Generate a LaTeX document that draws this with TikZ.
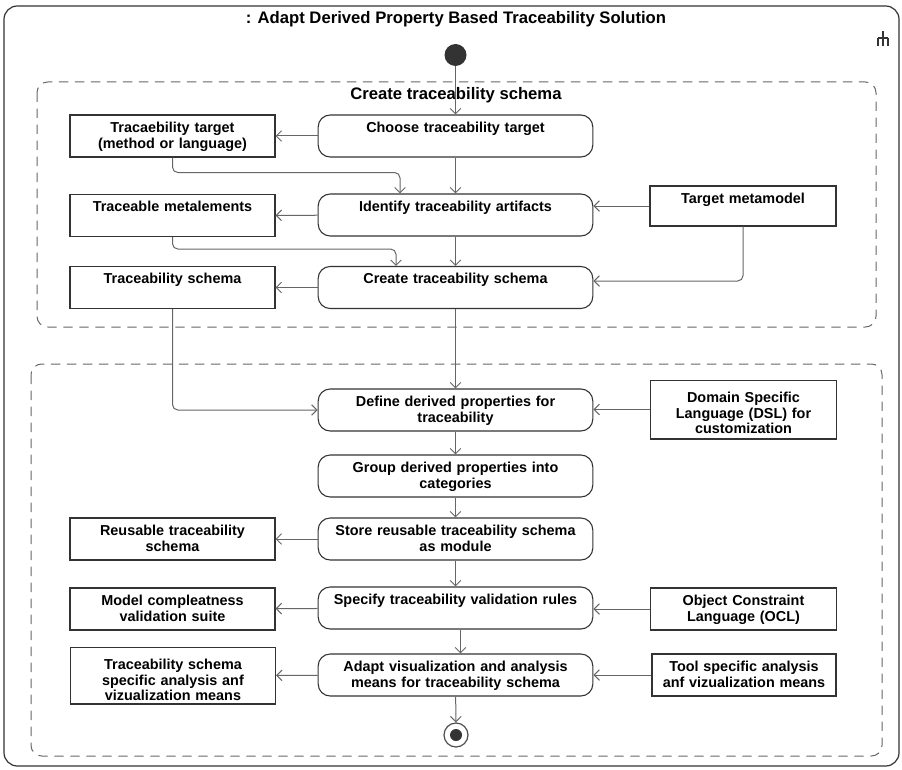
\documentclass[tikz,border=0pt]{standalone}
\usepackage{fontspec}
\setmainfont{Liberation Sans}
\usetikzlibrary{calc}
\usetikzlibrary{arrows.meta}

\begin{document}
\begin{tikzpicture}[x=0.75pt, y=-0.75pt,
  txt/.style={font=\bfseries\fontsize{10.8}{11.8}\selectfont},
  act/.style={txt, draw=black!80, line width=0.8pt, rounded corners=9pt, fill=white, inner xsep=0pt, inner ysep=3pt, text width=206pt, align=center, text height=10pt, text depth=15.5pt},
  obj/.style={txt, draw=black!80, line width=0.8pt, fill=white, inner xsep=0pt, inner ysep=3pt, text width=#1, align=center, text height=10pt, text depth=15.5pt},
  obj/.default=153.75pt,
  flow/.style={draw=black!60, line width=0.75pt, -{Straight Barb[length=4pt,width=8pt]}, rounded corners=4pt},
  region/.style={draw=black!60, dash pattern=on 7pt off 5pt, line width=0.75pt, rounded corners=8pt}]
\useasboundingbox (0,0) rectangle (902,770);
\draw[black!80, line width=0.9pt, rounded corners=10pt] (4,6) rectangle (899,766);
\node[font=\bfseries\fontsize{12.5}{14}\selectfont] (title) at (456,19) {: Adapt Derived Property Based Traceability Solution};
\draw[black!80, line width=1pt] (883,31) -- (883,46) (878,38) -- (888,38) (878,38) -- (878,46) (888,38) -- (888,46);

\draw[region] (37,82) rectangle (876,327);
\node[font=\bfseries\fontsize{12.5}{14}\selectfont] (schema) at (456,95) {Create traceability schema};
\draw[region] (31,364) rectangle (882,756);

\node[circle, fill=black!80, minimum size=16.5pt, inner sep=0pt] (init) at (455.5,55) {};
\node[circle, draw=black!70, line width=0.9pt, minimum size=18pt, inner sep=0pt] (final) at (456,735) {};
\node[circle, fill=black!80, minimum size=9pt, inner sep=0pt] (finaldot) at (final) {};

\node[act] (A1) at (455.5,136) {Choose traceability target};
\node[act] (A2) at (455.5,215) {Identify traceability artifacts};
\node[act] (A3) at (455.5,287.5) {Create traceability schema};
\node[act] (A4) at (455.5,410) {Define derived properties for\\traceability};
\node[act] (A5) at (455.5,476) {Group derived properties into\\categories};
\node[act] (A6) at (455.5,539) {Store reusable traceability schema\\as module};
\node[act] (A7) at (455.5,608) {Specify traceability validation rules};
\node[act] (A8) at (455.5,675) {Adapt visualization and analysis\\means for traceability schema};

\node[obj] (O1) at (172.5,136) {Tracaebility target\\(method or language)};
\node[obj] (O2) at (172.5,215.5) {Traceable metalements};
\node[obj] (O3) at (172.5,287.5) {Traceability schema};
\node[obj] (O4) at (172.5,539) {Reusable traceability\\schema};
\node[obj] (O5) at (172.5,609) {Model compleatness\\validation suite};
\node[obj, text height=13.7pt, text depth=23pt] (O6) at (173,675.5) {Traceability schema\\specific analysis anf\\vizualization means};

\node[obj=139.5pt, text depth=14pt] (R1) at (743,206) {Target metamodel};
\node[obj=139.5pt, text height=13.7pt, text depth=24.5pt] (R2) at (743.5,409.5) {Domain Specific\\Language (DSL) for\\customization};
\node[obj=139.5pt] (R3) at (743.5,609) {Object Constraint\\Language (OCL)};
\node[obj=138pt] (R4) at (744,675) {Tool specific analysis\\anf vizualization means};

\draw[flow] (init) -- (A1);
\foreach \a/\b in {A1/A2, A2/A3, A3/A4, A4/A5, A5/A6, A6/A7}
  \draw[flow] (\a) -- (\b);
\draw[flow] ($(A7.south)+(5,0)$) -- ($(A8.north)+(5,0)$);
\draw[flow] (A8) -- (final);
\foreach \a/\b in {A1/O1, A2/O2, A3/O3, A6/O4, A7/O5, A8/O6}
  \draw[flow] (\a) -- (\b);
\foreach \a/\b in {R1/A2, R2/A4, R3/A7, R4/A8}
  \draw[flow] (\a.west) -- (\a.west -| \b.east);
\draw[flow] (O1.south) -- ++(0,15) -| ($(A2.north)+(-55.5,0)$);
\draw[flow] (O2.south) -- ++(0,12) -| ($(A3.north)+(-59.5,0)$);
\draw[flow] (O3.south) |- (A4.west);
\draw[flow] (R1.south) |- ($(A3.east)+(0,-6.5)$);
\end{tikzpicture}
\end{document}
